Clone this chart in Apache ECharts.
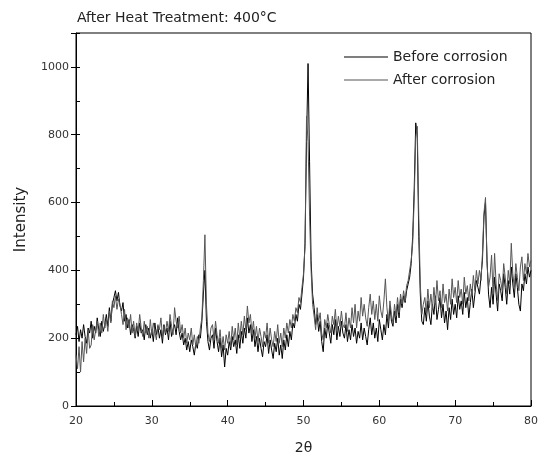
<!DOCTYPE html>
<html>
<head>
<meta charset="utf-8">
<script src="https://cdn.jsdelivr.net/npm/echarts@6/dist/echarts.min.js"></script>
<style>
  html, body { margin: 0; padding: 0; background: #fff; }
  #chart { width: 541px; height: 457px; }
</style>
</head>
<body>
<div id="chart"></div>
<script>
// 2θ 从20开始，步长0.2
var startAngle = 20;
var stepAngle = 0.2;

// Before corrosion，每行一个整数度 (d, d+0.2 ... d+0.8)
var beforeValues = [
  210, 235, 190, 225, 200,
  240, 205, 185, 230, 215,
  250, 200, 235, 215, 260,
  225, 205, 250, 220, 240,
  270, 235, 290, 250, 300,
  320, 340, 310, 335, 295,
  280, 305, 250, 270, 230,
  255, 210, 240, 225, 200,
  235, 205, 245, 215, 225,
  195, 240, 210, 230, 200,
  225, 190, 245, 210, 235,
  200, 225, 185, 240, 210,
  230, 195, 250, 205, 225,
  240, 210, 260, 220, 195,
  215, 180, 200, 165, 190,
  160, 195, 175, 150, 185,
  170, 210, 200, 250, 330,
  400, 250, 190, 165, 200,
  210, 170, 230, 190, 160,
  200, 145, 180, 115, 170,
  150, 190, 165, 205, 175,
  195, 155, 210, 170, 220,
  185, 230, 200, 260, 215,
  240, 190, 225, 175, 205,
  160, 200, 170, 145, 190,
  175, 210, 155, 195, 165,
  140, 185, 160, 200, 150,
  180, 140, 195, 165, 210,
  175, 220, 195, 245, 230,
  270, 250, 300, 285, 330,
  380, 480, 780, 1010, 720,
  430, 330, 290, 240, 270,
  220, 250, 190, 160, 230,
  200, 245, 215, 185, 240,
  210, 255, 195, 235, 205,
  250, 215, 200, 240, 190,
  225, 195, 240, 205, 230,
  185, 220, 200, 245, 195,
  230, 205, 180, 225, 260,
  210, 245, 200, 230, 190,
  255, 225, 195, 240, 210,
  270, 230, 295, 250, 235,
  280, 245, 300, 260, 315,
  290, 325, 305, 340, 360,
  380, 420, 500, 640, 835,
  800, 500, 330, 250, 240,
  290, 250, 310, 265, 240,
  300, 270, 325, 255, 285,
  320, 260, 300, 245, 280,
  225, 290, 255, 315, 270,
  300, 260, 325, 285, 310,
  270, 335, 290, 320, 260,
  305, 345, 290, 330, 370,
  350, 330, 380, 430, 560,
  600, 430, 330, 290, 350,
  300, 380, 330, 280, 360,
  340, 310, 390, 350, 300,
  370, 330, 410, 360, 320,
  390, 350, 300, 280, 360,
  340, 390, 360, 410, 380,
  400
];

// After corrosion
var afterValues = [
  150, 110, 175, 100, 190,
  130, 200, 155, 225, 170,
  180, 240, 195, 225, 250,
  205, 245, 215, 270, 230,
  255, 220, 280, 245, 310,
  290, 325, 285, 315, 300,
  270, 240, 285, 225, 260,
  230, 270, 215, 250, 205,
  245, 220, 270, 230, 205,
  250, 215, 235, 200, 255,
  210, 245, 220, 195, 240,
  225, 260, 205, 235, 215,
  250, 220, 270, 235, 210,
  290, 250, 230, 265, 215,
  240, 200, 230, 185, 215,
  195, 230, 180, 210, 175,
  205, 185, 230, 260, 370,
  505, 300, 215, 190, 230,
  240, 195, 250, 210, 185,
  225, 170, 205, 165, 210,
  185, 220, 175, 235, 195,
  230, 180, 245, 200, 250,
  210, 265, 225, 295, 245,
  270, 215, 250, 200, 235,
  190, 230, 205, 175, 220,
  200, 245, 185, 230, 195,
  175, 220, 190, 240, 185,
  215, 175, 230, 200, 245,
  215, 255, 230, 270, 250,
  290, 275, 320, 305, 350,
  390, 470, 855, 780, 560,
  400, 300, 265, 225, 290,
  250, 275, 215, 195, 255,
  230, 270, 240, 215, 265,
  240, 285, 225, 265, 235,
  280, 240, 230, 275, 220,
  260, 230, 290, 245, 300,
  230, 280, 250, 320, 265,
  300, 260, 235, 290, 330,
  270, 310, 255, 300, 250,
  325, 280, 260, 310, 375,
  290, 250, 310, 270, 245,
  300, 265, 320, 275, 330,
  300, 340, 310, 355, 370,
  370, 430, 480, 610, 790,
  825, 560, 360, 270, 300,
  320, 275, 345, 290, 330,
  285, 350, 300, 370, 310,
  340, 290, 360, 305, 330,
  280, 345, 300, 375, 320,
  350, 305, 370, 320, 345,
  300, 380, 330, 355, 310,
  360, 325, 385, 340, 400,
  360, 400, 370, 450, 570,
  615, 420, 350, 380, 445,
  330, 450, 360, 310, 390,
  370, 340, 420, 380, 330,
  400, 360, 480, 390, 350,
  420, 380, 340, 410, 440,
  370, 420, 390, 450, 410,
  430
];

var seriesNames = ['Before corrosion', 'After corrosion'];

function toPairs(values) {
  return values.map(function (v, i) {
    return [+(startAngle + i * stepAngle).toFixed(1), v];
  });
}

var chart = echarts.init(document.getElementById('chart'));
var font = 'DejaVu Sans, sans-serif';

chart.setOption({
  animation: false,
  title: {
    text: 'After Heat Treatment: 400\u00B0C',
    left: 72,
    top: 6,
    textStyle: { fontFamily: font, fontSize: 14, fontWeight: 'normal', color: '#222' }
  },
  legend: {
    data: seriesNames,
    orient: 'vertical',
    left: 339,
    top: 44,
    icon: 'rect',
    itemWidth: 44,
    itemHeight: 1,
    itemGap: 7,
    textStyle: { fontFamily: font, fontSize: 14, color: '#222', lineHeight: 16 }
  },
  grid: {
    left: 76,
    right: 10,
    top: 33,
    bottom: 51,
    outerBoundsMode: 'none',
    show: true,
    borderColor: '#000',
    borderWidth: 1
  },
  xAxis: {
    type: 'value',
    min: 20,
    max: 80,
    interval: 10,
    name: '2\u03B8',
    nameLocation: 'middle',
    nameGap: 35,
    nameTextStyle: { fontFamily: font, fontSize: 14, color: '#222' },
    axisLine: { lineStyle: { color: '#000' } },
    axisTick: { inside: true, length: 6, lineStyle: { color: '#000' } },
    minorTick: { show: true, splitNumber: 2, length: 4, lineStyle: { color: '#000' } },
    axisLabel: { margin: 10, fontFamily: font, fontSize: 11, color: '#333' },
    splitLine: { show: false }
  },
  yAxis: [{
    type: 'value',
    min: 0,
    max: 1100,
    interval: 200,
    name: 'Intensity',
    nameLocation: 'middle',
    nameGap: 47,
    nameTextStyle: { fontFamily: font, fontSize: 15, color: '#222' },
    axisLine: { show: true, lineStyle: { color: '#000' } },
    axisTick: { show: true, inside: false, length: 5, lineStyle: { color: '#000' } },
    axisLabel: {
      margin: 7, fontFamily: font, fontSize: 11, color: '#333',
      formatter: function (v) { return v > 1000 ? '' : v; }
    },
    splitLine: { show: false }
  }, {
    type: 'value',
    min: 0,
    max: 1100,
    interval: 100,
    position: 'left',
    axisLine: { show: false },
    axisTick: { show: true, inside: true, length: 4, lineStyle: { color: '#000' } },
    axisLabel: { show: false },
    splitLine: { show: false }
  }],
  series: [{
    name: seriesNames[0],
    type: 'line',
    symbol: 'none',
    data: toPairs(beforeValues),
    lineStyle: { color: '#000', width: 1 },
    itemStyle: { color: '#000' }
  }, {
    name: seriesNames[1],
    type: 'line',
    symbol: 'none',
    data: toPairs(afterValues),
    lineStyle: { color: '#555', width: 1 },
    itemStyle: { color: '#555' }
  }]
});
</script>
</body>
</html>
